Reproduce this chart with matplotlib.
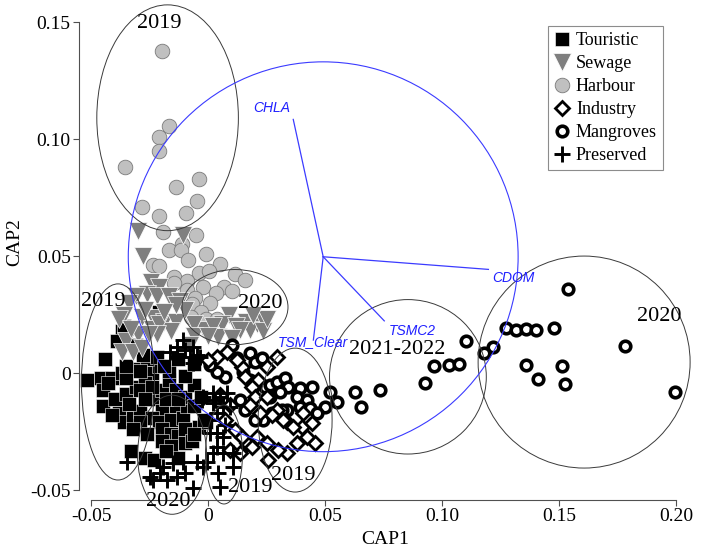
import matplotlib
matplotlib.use("Agg")
import matplotlib.pyplot as plt
from matplotlib.patches import Ellipse
from matplotlib.lines import Line2D

plt.rcParams['font.family'] = ['Liberation Serif', 'DejaVu Serif']

# CAP scores
tour_x = [-0.052, -0.044, -0.037, -0.021, -0.036, -0.046, -0.041, -0.037, -0.030, -0.024,
          -0.045, -0.045, -0.040, -0.035, -0.031, -0.027, -0.038, -0.036, -0.032, -0.029,
          -0.024, -0.020, -0.017, -0.021, -0.026, -0.022, -0.017, -0.014, -0.014, -0.020,
          -0.024, -0.029, -0.032, -0.021, -0.016, -0.011, -0.009, -0.010, -0.020, -0.016,
          -0.013, -0.010, -0.020, -0.016, -0.010, -0.033, -0.027, -0.023, -0.013, -0.007,
          -0.004, -0.001, -0.029, -0.024, -0.035, -0.029, -0.019, -0.006, -0.002, -0.006,
          -0.010, -0.013, -0.006, -0.031, -0.039, -0.043, -0.041, -0.034, -0.027, -0.018,
          -0.013, -0.026, -0.018, -0.006, -0.003, -0.035, -0.028]
tour_y = [-0.003, 0.006, 0.018, 0.026, 0.020, -0.002, -0.002, 0.000, 0.002, 0.000,
          -0.007, -0.014, -0.011, -0.009, -0.006, -0.004, -0.017, -0.021, -0.019, -0.016,
          -0.011, -0.007, -0.003, 0.003, 0.006, 0.007, 0.001, -0.007, -0.014, -0.016,
          -0.019, -0.021, -0.024, -0.021, -0.020, -0.019, -0.014, -0.010, -0.024, -0.026,
          -0.027, -0.024, -0.029, -0.031, -0.030, -0.033, -0.036, -0.037, -0.036, -0.029,
          -0.023, -0.021, -0.007, -0.006, -0.002, 0.001, 0.003, -0.014, -0.020, -0.005,
          -0.001, 0.006, 0.004, 0.012, 0.014, -0.004, -0.018, -0.013, -0.011, -0.011,
          -0.011, -0.026, -0.033, -0.026, -0.010, 0.003, 0.008]

sew_x = [-0.030, -0.011, -0.028, -0.0245, -0.021, -0.026, -0.022, -0.017, -0.031, -0.012,
         -0.034, -0.036, -0.0285, -0.0235, -0.019, -0.014, -0.024, -0.016, -0.002, -0.006,
         0.009, 0.006, 0.016, 0.021, 0.024, 0.018, 0.012, 0.002, 0.004, 0.0235,
         -0.035, -0.030, -0.037, -0.032, -0.0285, -0.021, -0.022, -0.006, 0.000, -0.038,
         -0.0255, 0.0135, 0.025, -0.010, -0.014, -0.033, -0.027, -0.019, 0.010, 0.019,
         -0.008]
sew_y = [0.061, 0.059, 0.050, 0.039, 0.037, 0.034, 0.033, 0.033, 0.033, 0.031,
         0.030, 0.025, 0.024, 0.0235, 0.022, 0.022, 0.019, 0.018, 0.0185, 0.021,
         0.025, 0.021, 0.022, 0.021, 0.022, 0.0185, 0.020, 0.020, 0.0155, 0.018,
         0.014, 0.017, 0.009, 0.009, 0.011, 0.021, 0.017, 0.016, 0.016, 0.023,
         0.017, 0.0185, 0.023, 0.027, 0.029, 0.019, 0.027, 0.026, 0.015, 0.025,
         0.012]

harb_x = [-0.0197, -0.0167, -0.0211, -0.0211, -0.0356, -0.0137, -0.0040, -0.0048, -0.0282, -0.0211,
          -0.0097, -0.0195, -0.0051, -0.0114, -0.0168, -0.0115, -0.0011, -0.0085, -0.0238, -0.0209,
          0.0048, -0.0040, 0.0005, -0.0147, -0.0093, -0.0145, 0.0116, 0.0158, 0.0067, -0.0024,
          0.0034, 0.0103, -0.0092, -0.0057, -0.0071, 0.0007, -0.0032, -0.0009, 0.0039, -0.0075]
harb_y = [0.1378, 0.1057, 0.1009, 0.0951, 0.0883, 0.0797, 0.0830, 0.0738, 0.0709, 0.0674,
          0.0684, 0.0603, 0.0592, 0.0553, 0.0527, 0.0527, 0.0510, 0.0484, 0.0463, 0.0459,
          0.0469, 0.0429, 0.0439, 0.0412, 0.0394, 0.0385, 0.0423, 0.0398, 0.0370, 0.0370,
          0.0343, 0.0350, 0.0356, 0.0321, 0.0296, 0.0299, 0.0260, 0.0234, 0.0232, 0.0240]

ind_x = [0.0292, 0.0250, 0.0214, 0.0185, 0.0143, 0.0121, 0.0079, 0.0036, 0.0000, 0.0157,
         0.0200, 0.0250, 0.0292, 0.0335, 0.0400, 0.0271, 0.0321, 0.0363, 0.0406, 0.0442,
         0.0456, 0.0421, 0.0378, 0.0335, 0.0299, 0.0250, 0.0207, 0.0164, 0.0135, 0.0093,
         0.0256, 0.0185, 0.0143, 0.0071, 0.0114, 0.0221, 0.0093, 0.0050, 0.0178]
ind_y = [0.0071, 0.0028, -0.0029, -0.0057, 0.0028, 0.0057, 0.0092, 0.0071, 0.0057, -0.0015,
         -0.0100, -0.0100, -0.0157, -0.0207, -0.0229, -0.0178, -0.0200, -0.0228, -0.0171, -0.0214,
         -0.0299, -0.0271, -0.0299, -0.0342, -0.0328, -0.0299, -0.0271, -0.0299, -0.0342, -0.0328,
         -0.0370, -0.0314, -0.0271, -0.0200, -0.0242, -0.0170, -0.0135, -0.0093, -0.0135]

mang_x = [0.1538, 0.1271, 0.1315, 0.1356, 0.1399, 0.1477, 0.1781, 0.1215, 0.1179, 0.1101,
          0.0966, 0.1030, 0.1070, 0.1358, 0.1510, 0.1408, 0.1524, 0.0925, 0.0734, 0.0627,
          0.0654, 0.0549, 0.1996, 0.0520,
          0.0100, 0.0121, 0.0178, 0.0200, 0.0228, 0.0150, 0.0178, 0.0192, 0.0242, 0.0264,
          0.0292, 0.0328, 0.0342, 0.0306, 0.0264, 0.0392, 0.0442, 0.0378, 0.0421, 0.0392,
          0.0435, 0.0499, 0.0463, 0.0335, 0.0314, 0.0271, 0.0235, 0.0200, 0.0135, 0.0157,
          0.0071, 0.0036, 0.0007]
mang_y = [0.0359, 0.0195, 0.0185, 0.0188, 0.0185, 0.0195, 0.0118, 0.0111, 0.0088, 0.0139,
          0.0031, 0.0035, 0.0040, 0.0035, 0.0031, -0.0026, -0.0047, -0.0043, -0.0071, -0.0080,
          -0.0143, -0.0121, -0.0081, -0.0079,
          0.0121, 0.0064, 0.0085, 0.0050, 0.0064, 0.0007, -0.0029, -0.0057, -0.0057, -0.0050,
          -0.0036, -0.0021, -0.0057, -0.0079, -0.0100, -0.0064, -0.0057, -0.0100, -0.0114, -0.0143,
          -0.0150, -0.0143, -0.0171, -0.0157, -0.0157, -0.0171, -0.0200, -0.0200, -0.0114, -0.0157,
          -0.0015, 0.0007, 0.0035]

pres_x = [-0.0164, -0.0135, -0.0100, -0.0064, -0.0135, -0.0078, -0.0050, -0.0035, -0.0064, -0.0021,
          0.0021, 0.0050, 0.0079, 0.0021, 0.0064, 0.0093, 0.0036, 0.0007, 0.0036, 0.0064,
          0.0036, 0.0064, 0.0021, -0.0007, -0.0021, -0.0050, 0.0043, 0.0050, -0.0064, -0.0349,
          -0.0249, -0.0206, -0.0178, -0.0135, -0.0100, -0.0235, -0.0192, -0.0150, -0.0107, 0.0107,
          0.0107, -0.0028, 0.0029, 0.0007, 0.0071, -0.0108]
pres_y = [0.0092, 0.0114, 0.0100, 0.0114, 0.0071, 0.0071, 0.0078, 0.0071, 0.0043, -0.0100,
          -0.0085, -0.0100, -0.0085, -0.0128, -0.0143, -0.0143, -0.0171, -0.0256, -0.0256, -0.0271,
          -0.0314, -0.0342, -0.0342, -0.0378, -0.0399, -0.0378, -0.0427, -0.0485, -0.0491, -0.0378,
          -0.0442, -0.0427, -0.0456, -0.0442, -0.0427, -0.0456, -0.0399, -0.0385, -0.0378, -0.0399,
          -0.0342, -0.0114, -0.0114, -0.0200, -0.0221, 0.0142]

# year groups: centre x, centre y, width, height (CAP units)
ell_x = [-0.0174, -0.0386, 0.0114, -0.0155, 0.0067, 0.0371, 0.0853, 0.1606]
ell_y = [0.1092, -0.0037, 0.0283, -0.0348, -0.0347, -0.0200, -0.0015, 0.0048]
ell_w = [0.0605, 0.0312, 0.0453, 0.0295, 0.0158, 0.0316, 0.0670, 0.0906]
ell_h = [0.0965, 0.0838, 0.0321, 0.0509, 0.0423, 0.0615, 0.0660, 0.0906]
year_text = ['2019', '2019', '2020', '2020', '2019', '2019', '2021-2022', '2020']
year_x = [-0.0211, -0.0449, 0.0223, -0.0172, 0.0178, 0.0362, 0.0809, 0.1926]
year_y = [0.1497, 0.0306, 0.0300, -0.0546, -0.0486, -0.0435, 0.0100, 0.0241]

# environmental vectors
vec_origin = (0.0491, 0.0498)
vec_radius = 0.0833
vec_names = ['CHLA', 'CDOM', 'TSMC2', 'TSM_Clear']
vec_x = [0.0363, 0.1197, 0.0752, 0.0449]
vec_y = [0.1085, 0.0444, 0.0224, 0.0142]
vec_offset = [(-29, 8), (3, -6.5), (3, -7), (-26, -1.2)]

xticks = [-0.05, 0, 0.05, 0.10, 0.15, 0.20]
xtick_labels = ['-0.05', '0', '0.05', '0.10', '0.15', '0.20']
yticks = [-0.05, 0, 0.05, 0.10, 0.15]
ytick_labels = ['-0.05', '0', '0.05', '0.10', '0.15']

fig = plt.figure(figsize=(7.09, 5.51), dpi=100)
ax = fig.add_axes([79 / 709, 51 / 551, 630 / 709, 500 / 551])
ax.set_xlim(-0.05526, 0.21397)
ax.set_ylim(-0.05415, 0.15953)

styles = {
    'Touristic': dict(marker='s', ms=10.5, mfc='black', mec='white', mew=0.4),
    'Sewage': dict(marker='v', ms=12.5, mfc='#7f7f7f', mec='white', mew=0.5),
    'Harbour': dict(marker='o', ms=10.5, mfc='#c0c0c0', mec='#7a7a7a', mew=0.6),
    'Industry': dict(marker='D', ms=7.2, mfc='white', mec='black', mew=2.0),
    'Mangroves': dict(marker='o', ms=7.6, mfc='white', mec='black', mew=2.6),
    'Preserved': dict(marker='+', ms=11, mec='black', mew=2.1),
}

ax.plot(tour_x, tour_y, ls='none', zorder=2, **styles['Touristic'])
ax.plot(harb_x, harb_y, ls='none', zorder=2, **styles['Harbour'])
ax.plot(sew_x, sew_y, ls='none', zorder=2, **styles['Sewage'])
ax.plot(mang_x, mang_y, ls='none', zorder=2, **styles['Mangroves'])
ax.plot(ind_x, ind_y, ls='none', zorder=2, **styles['Industry'])
ax.plot(pres_x, pres_y, ls='none', zorder=2, **styles['Preserved'])

for i in range(len(ell_x)):
    e = Ellipse((ell_x[i], ell_y[i]), ell_w[i], ell_h[i], fill=False,
                ec='#3a3a3a', lw=0.7, zorder=3, clip_on=False)
    ax.add_patch(e)
    ax.text(year_x[i], year_y[i], year_text[i], fontsize=16, ha='center',
            va='center', zorder=5)

circ = Ellipse(vec_origin, 2 * vec_radius, 2 * vec_radius, fill=False,
               ec='#3b3bff', lw=0.8, zorder=3)
ax.add_patch(circ)
for i in range(len(vec_names)):
    ax.plot([vec_origin[0], vec_x[i]], [vec_origin[1], vec_y[i]],
            color='#3b3bff', lw=0.9, zorder=3)
    ax.annotate(vec_names[i], (vec_x[i], vec_y[i]), xytext=vec_offset[i],
                textcoords='offset points', ha='left', va='center',
                color='#2020ff', fontsize=10, style='italic',
                family=['Liberation Sans', 'DejaVu Sans'], zorder=5)

for s in ['top', 'right']:
    ax.spines[s].set_visible(False)
ax.spines['left'].set_bounds(-0.05, 0.15)
ax.spines['bottom'].set_bounds(-0.05, 0.20)
for s in ['left', 'bottom']:
    ax.spines[s].set_color('#505050')
    ax.spines[s].set_linewidth(0.8)
ax.set_xticks(xticks)
ax.set_xticklabels(xtick_labels)
ax.set_yticks(yticks)
ax.set_yticklabels(ytick_labels)
ax.tick_params(direction='out', length=4, width=0.8, color='#505050',
               labelsize=14, pad=2)

fig.text(385 / 709, 1 - 540 / 551, 'CAP1', fontsize=14, ha='center', va='center')
fig.text(15 / 709, 1 - 242 / 551, 'CAP2', fontsize=14, ha='center', va='center',
         rotation=90)

handles = [Line2D([], [], ls='none', **styles[k]) for k in styles]
leg = ax.legend(handles, list(styles.keys()), loc='upper left',
                bbox_to_anchor=((548 - 79) / 630, 1 - 26 / 500), fontsize=13,
                frameon=True, fancybox=False, edgecolor='#707070',
                labelspacing=0.33, handlelength=0.9, handletextpad=0.3,
                borderpad=0.35, borderaxespad=0)
leg.get_frame().set_linewidth(0.8)

fig.savefig('out.png', dpi=100)
